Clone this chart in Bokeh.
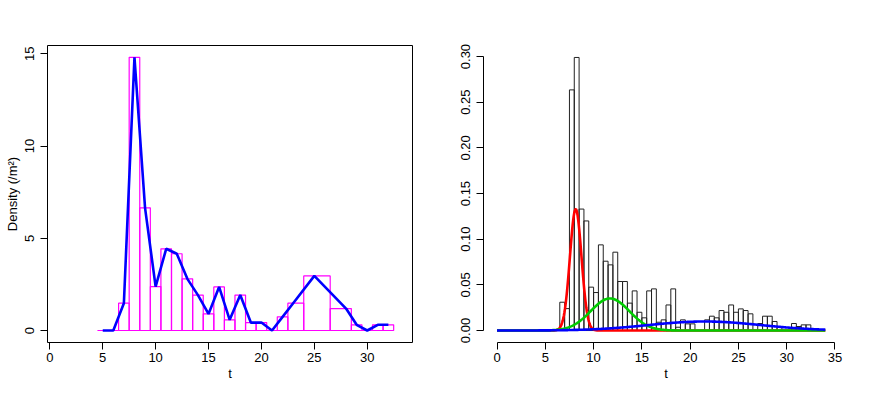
import numpy as np
from bokeh.plotting import figure
from bokeh.layouts import row
from bokeh.models import FixedTicker, PrintfTickFormatter
from bokeh.embed import file_html
from bokeh.resources import INLINE

# ---------------- Left panel data ----------------
t_sample = [5, 6, 7, 8, 9, 10, 11, 12, 13, 14, 15, 16, 17, 18, 19, 20,
            21, 22, 23, 25, 28, 29, 30, 31, 32]
density = [0.0, 0.0, 1.48, 14.81, 6.65, 2.38, 4.43, 4.16, 2.80, 1.92, 0.90,
           2.36, 0.58, 1.92, 0.43, 0.43, 0.0, 0.74, 1.48, 2.96, 1.19, 0.31,
           0.0, 0.31, 0.31]
bin_left = [4.5, 5.5, 6.5, 7.5, 8.5, 9.5, 10.5, 11.5, 12.5, 13.5, 14.5, 15.5,
            16.5, 17.5, 18.5, 19.5, 20.5, 21.5, 22.5, 24.0, 26.5, 28.5, 29.5,
            30.5, 31.5]
bin_right = [5.5, 6.5, 7.5, 8.5, 9.5, 10.5, 11.5, 12.5, 13.5, 14.5, 15.5,
             16.5, 17.5, 18.5, 19.5, 20.5, 21.5, 22.5, 24.0, 26.5, 28.5, 29.5,
             30.5, 31.5, 32.5]
left_xticks = [0, 5, 10, 15, 20, 25, 30]
left_yticks = [0, 5, 10, 15]

# ---------------- Right panel data ----------------
hist_left = [6.5, 7.0, 7.5, 8.0, 8.5, 9.0, 9.5, 10.0, 10.5, 11.0, 11.5, 12.0,
             12.5, 13.0, 13.5, 14.0, 14.5, 15.0, 15.5, 16.0, 16.5, 17.0, 17.5,
             18.0, 18.5, 19.0, 19.5, 20.0, 20.5, 21.0, 21.5, 22.0, 22.5, 23.0,
             23.5, 24.0, 24.5, 25.0, 25.5, 26.0, 26.5, 27.0, 27.5, 28.0, 28.5,
             29.0, 29.5, 30.0, 30.5, 31.0, 31.5, 32.0]
hist_height = [0.031, 0.024, 0.2635, 0.299, 0.133, 0.120, 0.0475, 0.0416,
               0.0938, 0.0759, 0.0719, 0.0858, 0.0537, 0.0537, 0.030, 0.0434,
               0.020, 0.0139, 0.0434, 0.0456, 0.0091, 0.0117, 0.028, 0.0456,
               0.0036, 0.0117, 0.0073, 0.0073, 0.0, 0.0, 0.0117, 0.0157,
               0.0139, 0.0219, 0.020, 0.028, 0.020, 0.0237, 0.0219, 0.0183,
               0.0, 0.0077, 0.0157, 0.0157, 0.0099, 0.0036, 0.0, 0.0, 0.0077,
               0.0044, 0.0062, 0.0062]
hist_binwidth = 0.5

# mixture components (weight, mean, sd)
comp_lambda = [0.200, 0.176, 0.144]
comp_mean = [8.15, 11.7, 21.5]
comp_sd = [0.60, 2.0, 5.8]
comp_color = ["#FF0000", "#00CD00", "#0000FF"]
curve_from, curve_to = 0.0, 34.0

right_xticks = [0, 5, 10, 15, 20, 25, 30, 35]
right_yticks = [0.00, 0.05, 0.10, 0.15, 0.20, 0.25, 0.30]

FONT = "Liberation Sans"
FS = "13px"


def style(p, xlabel, ylabel):
    p.xgrid.visible = False
    p.ygrid.visible = False
    p.background_fill_color = "white"
    p.border_fill_color = "white"
    for ax in p.axis:
        ax.major_tick_out = 7
        ax.major_tick_in = 0
        ax.minor_tick_out = 0
        ax.minor_tick_in = 0
        ax.axis_line_color = "black"
        ax.major_tick_line_color = "black"
        ax.major_label_text_font = FONT
        ax.major_label_text_font_size = FS
        ax.major_label_text_color = "black"
        ax.axis_label_text_font = FONT
        ax.axis_label_text_font_size = FS
        ax.axis_label_text_font_style = "normal"
        ax.axis_label_text_color = "black"
    p.xaxis.axis_label = xlabel
    p.xaxis.major_label_standoff = 3
    p.xaxis.axis_label_standoff = 1
    p.yaxis.major_label_orientation = "parallel"
    p.yaxis.major_label_standoff = 6
    if ylabel:
        p.yaxis.axis_label = ylabel
        p.yaxis.axis_label_standoff = 3


# ---------------- Left figure ----------------
p1 = figure(frame_width=365, frame_height=297,
            x_range=(-0.22, 34.28), y_range=(-0.65, 15.45),
            output_backend="svg", toolbar_location=None,
            min_border_left=47, min_border_right=24,
            min_border_top=45, min_border_bottom=41)
p1.outline_line_color = "black"
p1.outline_line_width = 1
p1.quad(left=bin_left, right=bin_right, bottom=0, top=density,
        fill_color=None, line_color="#FF00FF", line_width=1.2)
p1.line(t_sample, density, line_color="#0000FF", line_width=2.6)
style(p1, "t", "Density (/m\u00b2)")
p1.xaxis.ticker = FixedTicker(ticks=left_xticks)
p1.yaxis.ticker = FixedTicker(ticks=left_yticks)
p1.xaxis.bounds = (left_xticks[0], left_xticks[-1])
p1.yaxis.bounds = (left_yticks[0], left_yticks[-1])

# ---------------- Right figure ----------------
p2 = figure(frame_width=365, frame_height=297,
            x_range=(-1.4, 36.4), y_range=(-0.0131, 0.3121),
            output_backend="svg", toolbar_location=None,
            min_border_left=47, min_border_right=8,
            min_border_top=45, min_border_bottom=41)
p2.outline_line_color = None
hist_right = [h + hist_binwidth for h in hist_left]
p2.quad(left=hist_left, right=hist_right, bottom=0, top=hist_height,
        fill_color=None, line_color="#222222", line_width=1)
xs = np.linspace(curve_from, curve_to, 600)
for lam, mu, sd, col in zip(comp_lambda, comp_mean, comp_sd, comp_color):
    ys = lam * np.exp(-0.5 * ((xs - mu) / sd) ** 2) / (sd * np.sqrt(2 * np.pi))
    p2.line(xs, ys, line_color=col, line_width=2.6)
style(p2, "t", None)
p2.xaxis.ticker = FixedTicker(ticks=right_xticks)
p2.yaxis.ticker = FixedTicker(ticks=right_yticks)
p2.yaxis.formatter = PrintfTickFormatter(format="%.2f")
p2.xaxis.bounds = (right_xticks[0], right_xticks[-1])
p2.yaxis.bounds = (right_yticks[0], right_yticks[-1])

layout = row(p1, p2)
open("out.html", "w").write(file_html(layout, INLINE))
